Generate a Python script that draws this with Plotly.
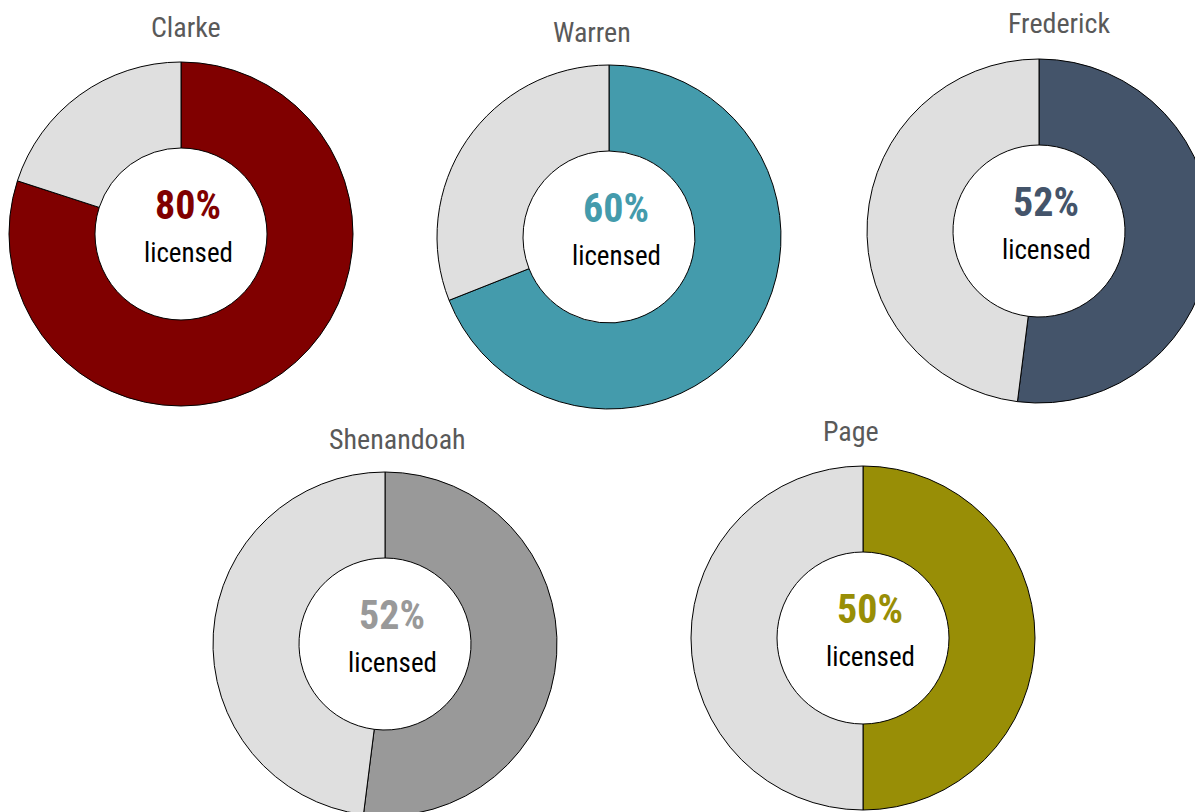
import plotly.graph_objects as go

# data
counties = ["Clarke", "Warren", "Frederick", "Shenandoah", "Page"]
licensed_share = [80, 69, 52, 52, 50]
pct_labels = ["80%", "60%", "52%", "52%", "50%"]
colors = ["#800000", "#449bac", "#44546a", "#999999", "#988e06"]
rest_color = "#dfdfdf"

# layout in window pixels: donut centre, radius, title centre
W, H = 1203, 812
OFF = 8  # page body margin
centers = [(181, 234), (609, 237), (1039, 231), (385, 644), (863, 638)]
radius = 172
title_pos = [(186, 27), (592, 33), (1059, 24), (397, 439), (851, 431)]

FONT = "Roboto Condensed, Arial Narrow, Arial, sans-serif"


def px(x):
    return (x - OFF) / W


def py(y):
    return 1 - (y - OFF) / H


def clamp(v):
    return min(max(v, 0.0), 1.0)


def label(fig, x, y, text, size, color):
    fig.add_annotation(x=px(x), y=py(y), xref="paper", yref="paper", text=text,
                       showarrow=False, xanchor="center", yanchor="middle",
                       font=dict(family=FONT, size=size, color=color))


def main():
    fig = go.Figure()
    for i, name in enumerate(counties):
        cx, cy = centers[i]
        fig.add_trace(go.Pie(
            values=[licensed_share[i], 100 - licensed_share[i]],
            labels=["licensed", "not licensed"],
            marker=dict(colors=[colors[i], rest_color], line=dict(color="black", width=1)),
            hole=0.5, sort=False, direction="clockwise", rotation=0,
            textinfo="none", hoverinfo="skip", showlegend=False,
            domain=dict(x=[clamp(px(cx - radius)), clamp(px(cx + radius))],
                        y=[clamp(py(cy + radius)), clamp(py(cy - radius))]),
        ))
        label(fig, cx + 7, cy - 29, "<b>" + pct_labels[i] + "</b>", 40, colors[i])
        label(fig, cx + 7, cy + 19, "licensed", 27, "black")
        tx, ty = title_pos[i]
        label(fig, tx, ty, name, 28, "#595959")

    fig.update_layout(width=W, height=H, margin=dict(l=0, r=0, t=0, b=0),
                      paper_bgcolor="white", plot_bgcolor="white")
    fig.write_html("out.html", post_script="document.body.style.overflow = 'hidden';")


if __name__ == '__main__':
    main()
